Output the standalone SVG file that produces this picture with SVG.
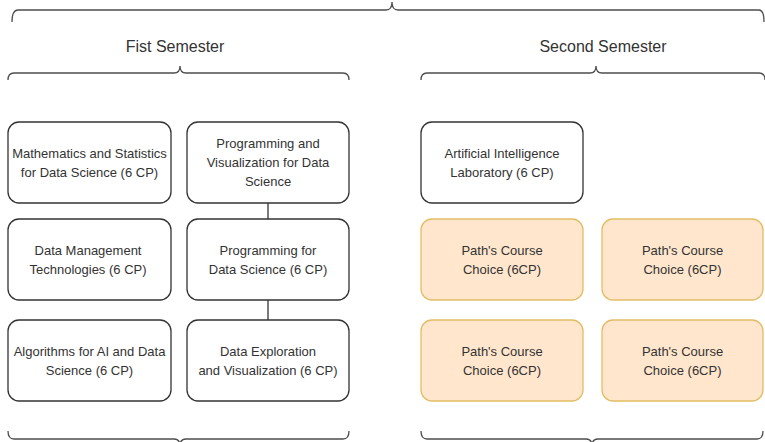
<svg xmlns="http://www.w3.org/2000/svg" width="765" height="442" viewBox="0 0 765 442">
<style>
.bg{fill:#ffffff}
.br{fill:none;stroke:#4d4d4d;stroke-width:1.3}
.box{fill:#ffffff;stroke:#333333;stroke-width:1.3}
.opt{fill:#ffe6cc;stroke:#e3bd66;stroke-width:1.3}
.t{font-family:"Liberation Sans",Arial,sans-serif;font-size:13px;fill:#333333;text-anchor:middle}
.h{font-family:"Liberation Sans",Arial,sans-serif;font-size:16px;fill:#333333;text-anchor:middle}
.ln{stroke:#333333;stroke-width:1.3;fill:none}
</style>
<rect class="bg" x="0" y="0" width="765" height="442"/>
<g id="braces">
<path class="br" d="M12,22 Q12,10 18,10 L386,10 Q392,10 392,2 Q392,10 398,10 L759,10 Q764,10 764,22"/>
<path class="br" d="M8,80 Q8,73 14,73 L174,73 Q180,73 180,66 Q180,73 186,73 L343,73 Q349,73 349,80"/>
<path class="br" d="M421,80 Q421,73 427,73 L590,73 Q596,73 596,66 Q596,73 602,73 L759,73 Q765,73 765,80"/>
<path class="br" d="M8,431 Q8,439 14,439 L174,439 Q180,439 180,446 Q180,439 186,439 L343,439 Q349,439 349,431"/>
<path class="br" d="M421,431 Q421,439 427,439 L586,439 Q592,439 592,446 Q592,439 598,439 L757,439 Q763,439 763,431"/>
</g>
<g id="title1"><text class="h" x="175" y="52">Fist Semester</text></g>
<g id="title2"><text class="h" x="603" y="52">Second Semester</text></g>
<g id="connectors">
<line class="ln" x1="268" y1="203" x2="268" y2="219"/>
<line class="ln" x1="268" y1="300" x2="268" y2="320"/>
</g>
<g id="math">
<rect class="box" x="8" y="122" width="163" height="81" rx="11"/>
<text class="t" x="89.5" y="158">Mathematics and Statistics</text>
<text class="t" x="89.5" y="177">for Data Science (6 CP)</text>
</g>
<g id="progvis">
<rect class="box" x="187" y="122" width="162" height="81" rx="11"/>
<text class="t" x="268" y="148">Programming and</text>
<text class="t" x="268" y="167">Visualization for Data</text>
<text class="t" x="268" y="186">Science</text>
</g>
<g id="ailab">
<rect class="box" x="421" y="122" width="162" height="81" rx="11"/>
<text class="t" x="502" y="158">Artificial Intelligence</text>
<text class="t" x="502" y="177">Laboratory (6 CP)</text>
</g>
<g id="datamgmt">
<rect class="box" x="8" y="219" width="163" height="81" rx="11"/>
<text class="t" x="88" y="254.5">Data Management</text>
<text class="t" x="88" y="273.5">Technologies (6 CP)</text>
</g>
<g id="prog">
<rect class="box" x="187" y="219" width="162" height="81" rx="11"/>
<text class="t" x="268" y="254.5">Programming for</text>
<text class="t" x="268" y="273.5">Data Science (6 CP)</text>
</g>
<g id="path1">
<rect class="opt" x="421" y="219" width="162" height="81" rx="11"/>
<text class="t" x="502" y="254.5">Path's Course</text>
<text class="t" x="502" y="273.5">Choice (6CP)</text>
</g>
<g id="path2">
<rect class="opt" x="602" y="219" width="161" height="81" rx="11"/>
<text class="t" x="682.5" y="254.5">Path's Course</text>
<text class="t" x="682.5" y="273.5">Choice (6CP)</text>
</g>
<g id="algo">
<rect class="box" x="8" y="320" width="163" height="81" rx="11"/>
<text class="t" x="89.5" y="356">Algorithms for AI and Data</text>
<text class="t" x="89.5" y="375">Science (6 CP)</text>
</g>
<g id="explore">
<rect class="box" x="187" y="320" width="162" height="81" rx="11"/>
<text class="t" x="268" y="356">Data Exploration</text>
<text class="t" x="268" y="375">and Visualization (6 CP)</text>
</g>
<g id="path3">
<rect class="opt" x="421" y="320" width="162" height="81" rx="11"/>
<text class="t" x="502" y="356">Path's Course</text>
<text class="t" x="502" y="375">Choice (6CP)</text>
</g>
<g id="path4">
<rect class="opt" x="602" y="320" width="161" height="81" rx="11"/>
<text class="t" x="682.5" y="356">Path's Course</text>
<text class="t" x="682.5" y="375">Choice (6CP)</text>
</g>
</svg>
